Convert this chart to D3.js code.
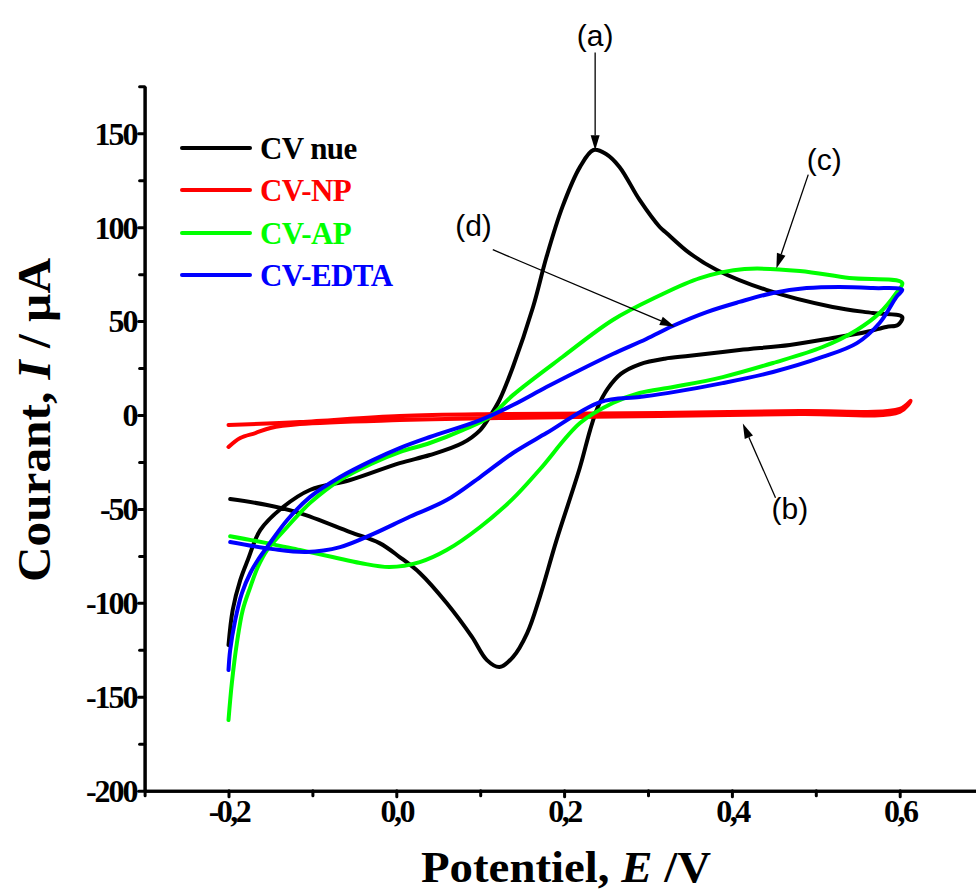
<!DOCTYPE html>
<html>
<head>
<meta charset="utf-8">
<script src="https://cdn.jsdelivr.net/npm/d3@7"></script>
<style>
  html, body { margin: 0; padding: 0; background: #fff; }
  svg { display: block; }
</style>
</head>
<body>
<svg id="chart" width="976" height="893"></svg>
<script>
// ---------------- DATA ----------------
const seriesNames = ["CV nue", "CV-NP", "CV-AP", "CV-EDTA"];
const seriesColors = ["#000000", "#ff0000", "#00ff00", "#0000ff"];

// [E (V), I (µA)]
const cvNue = [
  [-0.200,-122.5],[-0.195,-103.8],[-0.186,-87.9],[-0.177,-77.2],[-0.162,-61.2],[-0.135,-49.0],
  [-0.103,-39.9],[-0.055,-34.6],[0.004,-25.6],[0.040,-21.3],[0.079,-14.9],[0.100,-8.0],
  [0.111,-1.1],[0.123,8.0],[0.139,25.6],[0.163,57.5],[0.179,84.1],[0.198,110.8],[0.219,132.1],
  [0.235,141.1],[0.250,139.0],[0.266,132.1],[0.290,114.5],[0.314,100.1],[0.322,96.9],[0.350,86.0],
  [0.382,77.2],[0.441,66.6],[0.520,57.5],[0.568,54.3],[0.603,52.2],
  [0.598,48.0],[0.584,46.9],[0.560,44.2],[0.520,41.0],[0.469,37.3],[0.409,34.6],[0.350,31.5],
  [0.320,30.0],[0.290,27.0],[0.268,22.0],[0.252,14.0],[0.240,4.0],[0.231,-8.0],[0.219,-27.7],[0.191,-66.6],
  [0.171,-96.9],[0.156,-116.1],[0.139,-128.9],[0.123,-134.2],[0.108,-130.5],[0.090,-118.0],
  [0.060,-100.1],[0.028,-84.1],[0.004,-75.6],[-0.020,-68.2],[-0.055,-62.3],[-0.115,-52.2],
  [-0.154,-47.9],[-0.198,-44.7]
];
const cvNP = [
  [-0.200,-5.3],[-0.115,-3.7],[0.004,-0.5],[0.123,0.5],[0.314,1.1],[0.481,2.1],[0.600,3.2],[0.613,7.5],
  [0.600,1.6],[0.481,0.5],[0.314,-0.5],[0.123,-1.6],[0.004,-2.7],[-0.115,-4.8],[-0.150,-6.9],
  [-0.168,-9.6],[-0.186,-12.2],[-0.200,-17.0]
];
const cvAP = [
  [-0.200,-162.4],[-0.196,-142.7],[-0.190,-121.4],[-0.183,-103.8],[-0.174,-91.6],[-0.165,-80.9],
  [-0.154,-71.9],[-0.130,-59.6],[-0.103,-46.9],[-0.067,-34.6],[-0.028,-25.6],[0.004,-19.7],
  [0.040,-14.9],[0.079,-8.0],[0.111,-1.1],[0.139,10.6],[0.198,30.9],[0.258,50.6],[0.310,62.8],
  [0.362,72.9],[0.415,77.7],[0.481,76.7],[0.540,72.9],[0.603,70.3],
  [0.596,65.0],[0.576,54.3],[0.549,45.3],[0.508,36.2],[0.449,27.7],[0.389,20.2],[0.330,14.9],
  [0.290,11.7],[0.258,6.4],[0.219,-4.3],[0.171,-29.0],[0.139,-44.5],[0.100,-59.6],[0.060,-71.9],
  [0.028,-78.3],[-0.008,-80.9],[-0.043,-78.8],[-0.076,-75.6],[-0.115,-71.9],[-0.154,-68.2],
  [-0.198,-64.5]
];
const cvEDTA = [
  [-0.200,-135.8],[-0.198,-125.1],[-0.192,-109.2],[-0.184,-94.8],[-0.174,-84.1],[-0.165,-77.2],
  [-0.154,-70.3],[-0.130,-55.9],[-0.103,-43.7],[-0.067,-33.0],[-0.028,-24.0],[0.004,-17.6],
  [0.040,-11.7],[0.100,-2.7],[0.139,5.3],[0.179,14.9],[0.219,24.0],[0.258,32.5],[0.298,40.5],
  [0.330,47.5],[0.370,54.8],[0.409,60.2],[0.449,65.0],[0.489,67.6],[0.528,68.2],[0.568,67.6],
  [0.603,66.6],
  [0.596,62.8],[0.576,49.0],[0.549,38.3],[0.508,30.9],[0.449,22.9],[0.389,17.0],[0.330,12.2],
  [0.290,9.6],[0.243,6.9],[0.179,-9.6],[0.139,-20.2],[0.100,-33.0],[0.060,-45.3],[0.013,-54.8],
  [-0.028,-63.4],[-0.067,-70.3],[-0.107,-72.9],[-0.147,-71.4],[-0.198,-67.6]
];
const seriesData = [cvNue, cvNP, cvAP, cvEDTA];

const xMajorTicks = [-0.2, 0.0, 0.2, 0.4, 0.6];
const xTickLabels = ["-0,2", "0,0", "0,2", "0,4", "0,6"];
const xMinorTicks = [-0.3, -0.1, 0.1, 0.3, 0.5];
const yMajorTicks = [-200, -150, -100, -50, 0, 50, 100, 150];
const yTickLabels = ["-200", "-150", "-100", "-50", "0", "50", "100", "150"];
const yMinorTicks = [-175, -125, -75, -25, 25, 75, 125, 175];

// annotations: label, label position (E, I), arrow start (E, I), arrow tip (E, I)
const annotLabels = ["(a)", "(b)", "(c)", "(d)"];
const annotLabelPos = [[0.237, 202], [0.469, -50], [0.510, 136], [0.092, 101]];
const annotArrowFrom = [[0.237, 193], [0.452, -44], [0.491, 128], [0.115, 88]];
const annotArrowTo = [[0.237, 141], [0.413, -4.5], [0.453, 78], [0.332, 47]];

// ---------------- CHART ----------------
const svg = d3.select("#chart");
const x = d3.scaleLinear().domain([-0.3, 0.7]).range([144.6, 983.6]);
const y = d3.scaleLinear().domain([-200, 175]).range([790.7, 86.3]);
const serif = "'Liberation Serif', 'Times New Roman', serif";
const sans = "'Liberation Sans', Arial, sans-serif";

// curves
const line = d3.line().x(d => x(d[0])).y(d => y(d[1])).curve(d3.curveCatmullRom.alpha(0.5));
svg.append("g").selectAll("path").data(seriesData).join("path")
  .attr("d", line)
  .attr("fill", "none")
  .attr("stroke", (d, i) => seriesColors[i])
  .attr("stroke-width", 4)
  .attr("stroke-linejoin", "round")
  .attr("stroke-linecap", "round");

// axes
function styleAxis(g) {
  g.select(".domain").attr("stroke", "#000").attr("stroke-width", 3);
  g.selectAll(".tick line").attr("stroke", "#000").attr("stroke-width", 3).attr("stroke-linecap", "round");
  g.selectAll(".tick text").attr("fill", "#000").attr("font-family", serif)
    .attr("font-weight", "bold").attr("font-size", 32);
}
const yAxisMinor = svg.append("g").attr("transform", "translate(144.6,0)")
  .call(d3.axisLeft(y).tickValues(yMinorTicks).tickSize(5).tickSizeOuter(0).tickFormat(""));
styleAxis(yAxisMinor);
const yAxis = svg.append("g").attr("transform", "translate(144.6,0)")
  .call(d3.axisLeft(y).tickValues(yMajorTicks).tickSize(6).tickSizeOuter(0).tickPadding(2)
    .tickFormat((d, i) => yTickLabels[i]));
styleAxis(yAxis);
yAxis.selectAll(".tick text").attr("dy", "0.34em").attr("letter-spacing", -2);

const xAxisMinor = svg.append("g").attr("transform", "translate(0,790.7)")
  .call(d3.axisBottom(x).tickValues(xMinorTicks).tickSize(5).tickSizeOuter(0).tickFormat(""));
styleAxis(xAxisMinor);
const xAxis = svg.append("g").attr("transform", "translate(0,790.7)")
  .call(d3.axisBottom(x).tickValues(xMajorTicks).tickSize(6).tickSizeOuter(0).tickPadding(3)
    .tickFormat((d, i) => xTickLabels[i]));
styleAxis(xAxis);
xAxis.selectAll(".tick text").attr("letter-spacing", -2.5);

// axis titles
const xt = svg.append("text").attr("x", 566).attr("y", 882).attr("text-anchor", "middle")
  .attr("font-family", serif).attr("font-weight", "bold").attr("font-size", 44)
  .attr("textLength", 290).attr("lengthAdjust", "spacingAndGlyphs");
xt.append("tspan").text("Potentiel, ");
xt.append("tspan").attr("font-style", "italic").text("E");
xt.append("tspan").text(" /V");

const yt = svg.append("text").attr("transform", "translate(50,420) rotate(-90)")
  .attr("text-anchor", "middle")
  .attr("font-family", serif).attr("font-weight", "bold").attr("font-size", 46)
  .attr("textLength", 324).attr("lengthAdjust", "spacingAndGlyphs");
yt.append("tspan").text("Courant, ");
yt.append("tspan").attr("font-style", "italic").text("I");
yt.append("tspan").text(" / µA");

// legend
const legendY = [148, 190, 233, 275];
const leg = svg.append("g").selectAll("g").data(seriesNames).join("g")
  .attr("transform", (d, i) => `translate(0,${legendY[i]})`);
leg.append("line").attr("x1", 182).attr("x2", 250).attr("y1", 0).attr("y2", 0)
  .attr("stroke", (d, i) => seriesColors[i]).attr("stroke-width", 4).attr("stroke-linecap", "round");
leg.append("text").attr("x", 260).attr("y", 10.5)
  .attr("font-family", serif).attr("font-weight", "bold").attr("font-size", 31)
  .attr("fill", (d, i) => seriesColors[i]).attr("letter-spacing", -0.6)
  .text(d => d);

// annotations
const ann = svg.append("g");
annotLabels.forEach((lab, i) => {
  ann.append("text").attr("x", x(annotLabelPos[i][0])).attr("y", y(annotLabelPos[i][1]))
    .attr("text-anchor", "middle").attr("dy", "0.35em")
    .attr("font-family", sans).attr("font-size", 30).attr("fill", "#000").text(lab);
  const x1 = x(annotArrowFrom[i][0]), y1 = y(annotArrowFrom[i][1]);
  const x2 = x(annotArrowTo[i][0]), y2 = y(annotArrowTo[i][1]);
  const ang = Math.atan2(y2 - y1, x2 - x1);
  const L = 15, W = 4.5;
  const bx = x2 - L * Math.cos(ang), by = y2 - L * Math.sin(ang);
  ann.append("line").attr("x1", x1).attr("y1", y1).attr("x2", bx).attr("y2", by)
    .attr("stroke", "#000").attr("stroke-width", 1.3);
  const p = [
    [x2, y2],
    [bx + W * Math.sin(ang), by - W * Math.cos(ang)],
    [bx - W * Math.sin(ang), by + W * Math.cos(ang)]
  ];
  ann.append("path").attr("d", "M" + p.map(q => q.join(",")).join("L") + "Z").attr("fill", "#000");
});
</script>
</body>
</html>
